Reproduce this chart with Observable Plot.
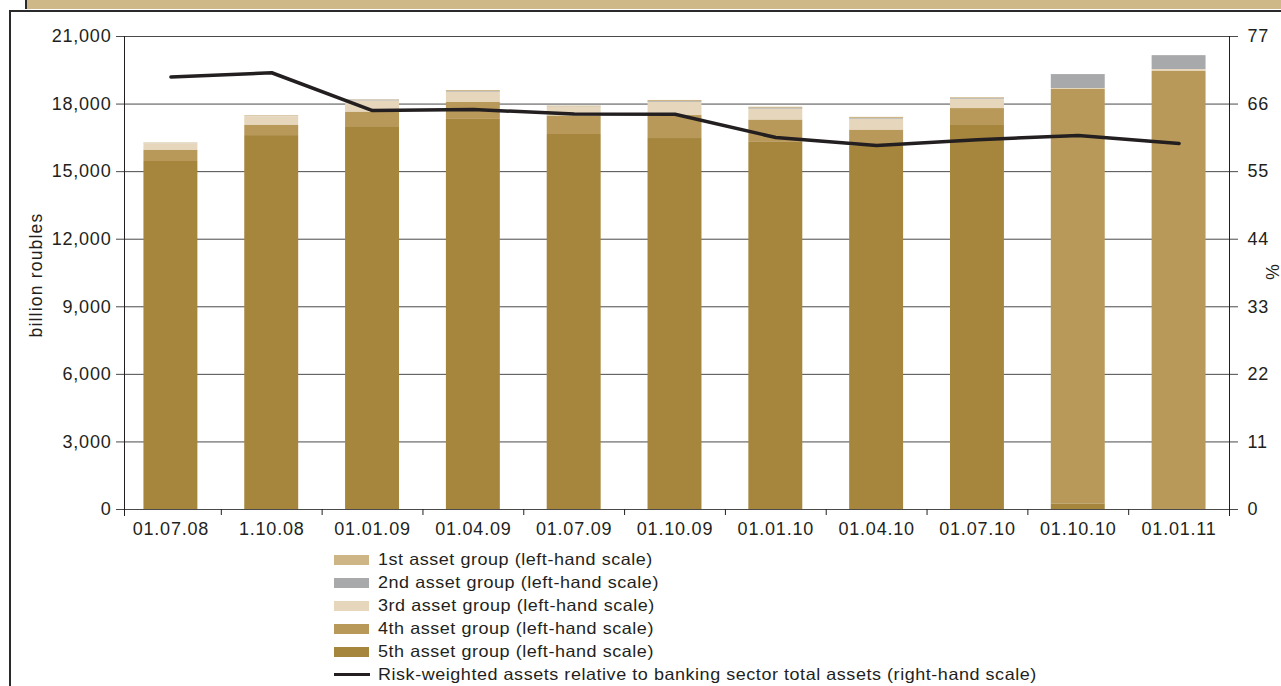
<!DOCTYPE html>
<html>
<head>
<meta charset="utf-8">
<script src="https://cdn.jsdelivr.net/npm/d3@7"></script>
<script src="https://cdn.jsdelivr.net/npm/@observablehq/plot@0.6"></script>
<style>
  body { margin: 0; background: #fff; font-family: "Liberation Sans", Arial, sans-serif; color: #231f20; }
  #wrap { position: relative; width: 1281px; height: 686px; overflow: hidden; background: #fff; }
  .band { position: absolute; left: 25px; top: 0; width: 1260px; height: 9px; background: #cfb888; border-left: 2px solid #2a2a2a; }
  .box { position: absolute; left: 9px; top: 10px; width: 1280px; height: 700px; border-top: 2px solid #2a2a2a; border-left: 2px solid #2a2a2a; }
  #chart { position: absolute; left: 0; top: 0; }
  #chart svg text { letter-spacing: 0.8px; }
  .rot { position: absolute; transform: translate(-50%, -50%) rotate(-90deg); white-space: nowrap; font-size: 17.5px; letter-spacing: 1.2px; }
  #legend { position: absolute; left: 334px; top: 548px; font-size: 16.5px; }
  .row { height: 23px; display: flex; align-items: center; }
  .row span { letter-spacing: 0.5px; display: inline-block; transform: scaleX(1.09); transform-origin: 0 50%; white-space: nowrap; }
  .sw { width: 35px; height: 10px; margin-right: 9px; }
  .ln { width: 36px; height: 3.5px; margin-right: 8px; background: #231f20; }
</style>
</head>
<body>
<div id="wrap">
  <div class="band"></div>
  <div class="box"></div>
  <div id="chart"></div>
  <div class="rot" style="left:36px; top:275px;">billion roubles</div>
  <div class="rot" style="left:1273px; top:272px; letter-spacing:0;">%</div>
  <div id="legend"></div>
</div>
<script>
const categories = ["01.07.08","1.10.08","01.01.09","01.04.09","01.07.09","01.10.09","01.01.10","01.04.10","01.07.10","01.10.10","01.01.11"];
const group1 = [30, 30, 20, 50, 40, 60, 50, 60, 50, 0, 0];
const group2 = [10, 10, 40, 30, 10, 30, 40, 30, 30, 620, 620];
const group3 = [290, 390, 500, 450, 400, 580, 490, 490, 400, 40, 80];
const group4 = [490, 450, 670, 750, 810, 1020, 980, 710, 750, 18410, 19450];
const group5 = [15450, 16600, 16960, 17320, 16650, 16470, 16300, 16120, 17050, 240, 0];
const riskWeighted = [70.4, 71.1, 64.95, 65.1, 64.4, 64.35, 60.55, 59.25, 60.2, 60.9, 59.6];
const groupNames = ["1st asset group (left-hand scale)","2nd asset group (left-hand scale)","3rd asset group (left-hand scale)","4th asset group (left-hand scale)","5th asset group (left-hand scale)"];
const groupColors = ["#cdb585","#a8a9ab","#e6d6bb","#b8995a","#a6863c"];
const lineName = "Risk-weighted assets relative to banking sector total assets (right-hand scale)";
const leftTicks = [0, 3000, 6000, 9000, 12000, 15000, 18000, 21000];
const rightTicks = [0, 11, 22, 33, 44, 55, 66, 77];

const series = [group1, group2, group3, group4, group5];
const stackOrder = [groupNames[4], groupNames[3], groupNames[2], groupNames[1], groupNames[0]];
const barData = [];
categories.forEach((c, i) => {
  series.forEach((s, g) => barData.push({date: c, group: groupNames[g], value: s[i]}));
});
const ratio = 21000 / 77;
const lineData = categories.map((c, i) => ({date: c, pct: riskWeighted[i], v: riskWeighted[i] * ratio}));

const W = 1281, H = 545;
const xLeft = 120, xRight = 1229;
const step = (xRight - xLeft) / categories.length;

const chart = Plot.plot({
  width: W, height: H,
  marginLeft: 124, marginRight: 52, marginTop: 36, marginBottom: 36,
  style: {fontFamily: "Liberation Sans, Arial, sans-serif", fontSize: "18px", color: "#231f20", background: "transparent"},
  x: {type: "band", domain: categories, range: [xLeft, xRight], paddingInner: 0.465, paddingOuter: 0.2325, round: false},
  y: {domain: [0, 21000], label: null},
  color: {domain: groupNames, range: groupColors},
  marks: [
    Plot.gridY(leftTicks, {stroke: "#4a4a4a", strokeOpacity: 1, strokeWidth: 1}),
    Plot.barY(barData, Plot.stackY({x: "date", y: "value", fill: "group", order: stackOrder})),
    Plot.frame({anchor: "left", stroke: "#231f20", insetBottom: -6}),
    Plot.frame({anchor: "right", stroke: "#231f20", insetBottom: -6}),
    Plot.axisY({ticks: leftTicks, tickSize: 8, tickPadding: 5, tickFormat: d3.format(","), label: null, stroke: "#4a4a4a"}),
    Plot.axisY({anchor: "right", ticks: leftTicks, tickSize: 8, tickPadding: 10, tickFormat: d => String(Math.round(d / ratio)), label: null, stroke: "#4a4a4a"}),
    Plot.axisX({ticks: categories, tickSize: 0, tickPadding: 13, label: null}),
    Plot.axisX({ticks: categories.slice(1), tickSize: 6, text: null, dx: -step / 2, label: null, stroke: "#231f20"}),
    Plot.line(lineData, {x: "date", y: "v", stroke: "#231f20", strokeWidth: 3.5, strokeLinejoin: "miter"})
  ]
});
document.getElementById("chart").appendChild(chart);

const legend = document.getElementById("legend");
groupNames.forEach((n, i) => {
  const r = document.createElement("div"); r.className = "row";
  const s = document.createElement("div"); s.className = "sw"; s.style.background = groupColors[i];
  const t = document.createElement("span"); t.textContent = n;
  r.appendChild(s); r.appendChild(t); legend.appendChild(r);
});
{
  const r = document.createElement("div"); r.className = "row";
  const s = document.createElement("div"); s.className = "ln";
  const t = document.createElement("span"); t.textContent = lineName;
  r.appendChild(s); r.appendChild(t); legend.appendChild(r);
}
</script>
</body>
</html>
